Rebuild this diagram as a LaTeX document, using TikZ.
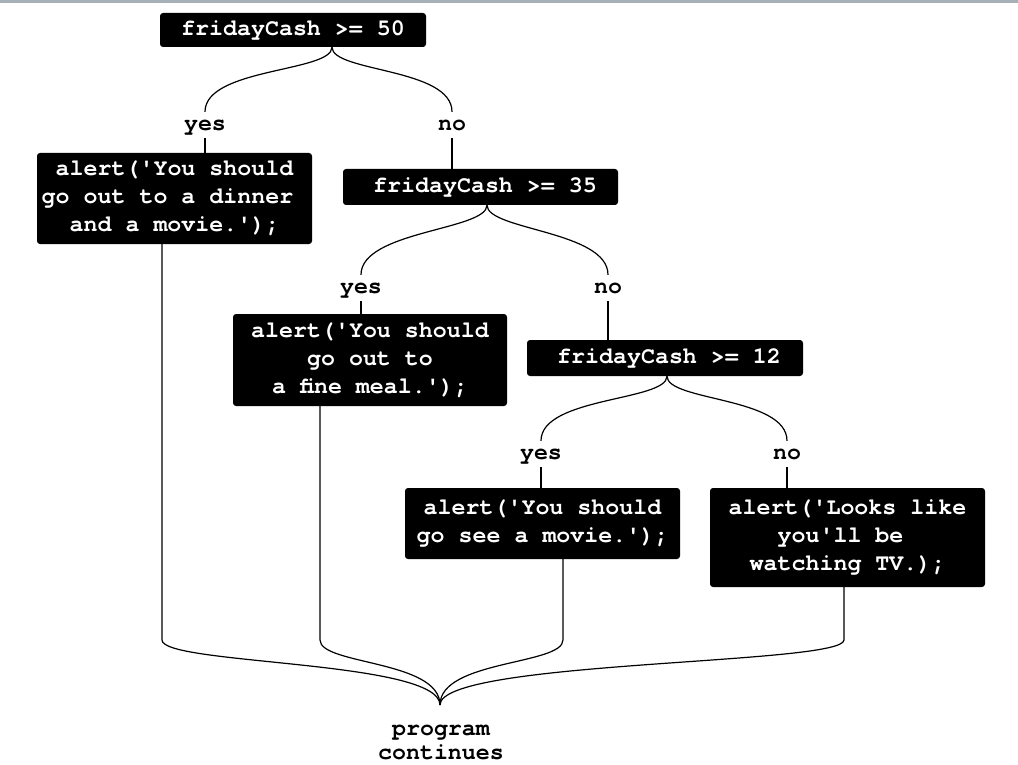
\documentclass[tikz,border=0pt]{standalone}
\usepackage{fontspec}
\setmonofont{TeX Gyre Cursor}
\newcommand\codefont{\ttfamily\bfseries\fontsize{23.3}{28}\selectfont}
\newcommand\tailfont{\ttfamily\bfseries\fontsize{23.3}{24}\selectfont}
\definecolor{topbar}{HTML}{A7AFB8}
\begin{document}
\begin{tikzpicture}[x=1pt,y=-1pt,
  box/.style={fill=black, text=white, rounded corners=3pt, inner sep=0pt, align=center, font=\codefont},
  lbl/.style={inner sep=0pt, minimum height=26pt, text height=11pt, text depth=0pt, font=\codefont},
  conn/.style={draw=black, line width=1.2pt}
]
\useasboundingbox (0,0) rectangle (1018,765);
\fill[topbar] (0,0) rectangle (1018,3);

% decision boxes
\node[box, minimum width=266, minimum height=34] (q1) at (293,30) {fridayCash >= 50};
\node[box, minimum width=275, minimum height=36] (q2) at (480.5,187) {\hspace*{9pt}fridayCash >= 35};
\node[box, minimum width=276, minimum height=36] (q3) at (665,358) {\hspace*{8pt}fridayCash >= 12};

% action boxes
\node[box, minimum width=275, minimum height=91] (a1) at (174.5,198.5) {alert('You should\\go out to a dinner\phantom{x}\\and a movie.');};
\node[box, minimum width=274, minimum height=92] (a2) at (370,360) {alert('You should\\go out to\\a fine meal.');};
\node[box, minimum width=275, minimum height=71] (a3) at (542.5,523.5) {alert('You should\\go see a movie.');};
\node[box, minimum width=275, minimum height=99] (a4) at (847.5,537.5) {alert('Looks like\\you'll be\phantom{x}\\watching TV.);};

% labels
\node[lbl] (y1) at (205,125) {yes};
\node[lbl] (n1) at (452,125) {no};
\node[lbl] (y2) at (361,288) {yes};
\node[lbl] (n2) at (608,288) {no};
\node[lbl] (y3) at (541,454) {yes};
\node[lbl] (n3) at (787,454) {no};

\node[font=\tailfont, align=center, inner sep=0pt] (end) at (441,742) {program\\continues};

% branches
\draw[conn] ([xshift=39pt]q1.south) .. controls +(0,25) and +(0,-44) .. (y1.north);
\draw[conn] ([xshift=39pt]q1.south) .. controls +(0,25) and +(0,-44) .. (n1.north);
\draw[conn] ([xshift=6.5pt]q2.south) .. controls +(0,25) and +(0,-44) .. (y2.north);
\draw[conn] ([xshift=6.5pt]q2.south) .. controls +(0,25) and +(0,-44) .. (n2.north);
\draw[conn] ([xshift=2pt]q3.south) .. controls +(0,25) and +(0,-44) .. (y3.north);
\draw[conn] ([xshift=2pt]q3.south) .. controls +(0,25) and +(0,-44) .. (n3.north);

% label to box
\draw[conn] (y1.south) -- (y1.south |- a1.north);
\draw[conn] (n1.south) -- (n1.south |- q2.north);
\draw[conn] (y2.south) -- (y2.south |- a2.north);
\draw[conn] (n2.south) -- (n2.south |- q3.north);
\draw[conn] (y3.south) -- (y3.south |- a3.north);
\draw[conn] (n3.south) -- (n3.south |- a4.north);

% merge
\coordinate (merge) at (440,705);
\coordinate (bendline) at (0,640);
\coordinate (e1) at ([xshift=-12.5pt]a1.south);
\coordinate (e2) at ([xshift=-50pt]a2.south);
\coordinate (e3) at ([xshift=20.5pt]a3.south);
\coordinate (e4) at ([xshift=-3.5pt]a4.south);
\foreach \e in {e1,e2,e3,e4}{
  \draw[conn] (\e) -- (\e |- bendline) .. controls +(0,25) and +(0,-45) .. (merge);
}
\end{tikzpicture}
\end{document}
